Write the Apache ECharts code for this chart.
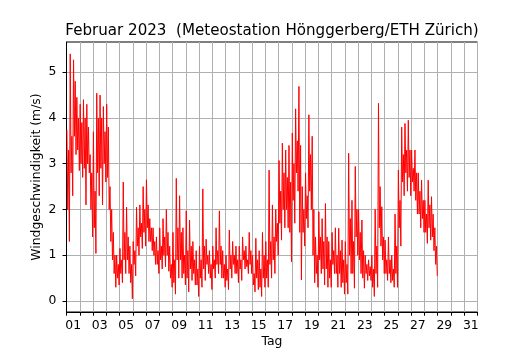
<!DOCTYPE html>
<html>
<head>
<meta charset="utf-8">
<script src="https://cdn.jsdelivr.net/npm/echarts@6.0.0/dist/echarts.min.js"></script>
<style>html,body{margin:0;padding:0;background:#fff}#c{width:530px;height:350px}</style>
</head>
<body>
<div id="c"></div>
<script>
// 6-hour bins from 1 Feb 00:00 (day offset = index * 0.25).
// Per bin: highest spike, lowest dip, and upper / lower edge of the dense core (m/s)
const binDays = 0.25;
const hiVals = [
3.74, 5.4, 5.27, 4.45, 4.3, 4.4, 4.3, 3.2,
3.7, 4.54, 4.5, 4.25, 4.3, 2.5, 1.5, 1.0,
1.15, 2.6, 2.05, 1.2, 1.3, 2.05, 2.1, 2.5,
2.65, 1.8, 1.6, 1.4, 1.6, 1.8, 2.0, 1.2,
1.5, 2.68, 2.3, 1.6, 1.97, 1.77, 1.3, 1.1,
1.2, 2.45, 1.35, 1.1, 1.2, 1.6, 1.97, 1.1,
1.0, 1.55, 1.3, 1.2, 1.2, 1.4, 1.2, 1.5,
1.0, 1.37, 1.1, 1.5, 1.3, 2.86, 2.1, 2.0,
3.07, 3.45, 3.3, 3.4, 3.67, 4.2, 4.69, 2.5,
2.8, 4.07, 3.6, 1.4, 1.95, 1.8, 2.13, 1.3,
1.5, 1.6, 1.59, 1.33, 1.3, 3.23, 2.2, 2.94,
2.0, 1.77, 1.0, 0.9, 1.0, 2.0, 4.32, 2.06,
1.33, 1.4, 1.0, 1.9, 2.86, 3.8, 3.88, 3.95,
3.3, 3.3, 2.8, 2.64, 2.2, 2.64, 2.28, 1.6
];
const loVals = [
1.3, 2.3, 3.2, 2.85, 2.7, 2.1, 2.8, 1.4,
1.04, 2.3, 2.1, 2.6, 2.0, 0.9, 0.3, 0.35,
0.4, 0.6, 0.6, 0.05, 0.55, 1.0, 1.15, 1.2,
1.3, 1.1, 0.8, 0.6, 0.7, 0.75, 0.65, 0.3,
0.15, 0.5, 0.5, 0.35, 0.2, 0.45, 0.35, 0.1,
0.3, 0.45, 0.6, 0.25, 0.5, 0.6, 0.5, 0.3,
0.25, 0.5, 0.6, 0.4, 0.45, 0.7, 0.6, 0.6,
0.2, 0.25, 0.1, 0.3, 0.3, 0.5, 0.6, 1.0,
1.33, 1.6, 1.6, 0.86, 1.7, 2.4, 0.46, 1.2,
1.6, 2.0, 0.4, 0.3, 0.6, 0.35, 0.3, 0.3,
0.6, 0.3, 0.3, 0.15, 0.15, 0.6, 0.28, 1.0,
0.6, 0.28, 0.45, 0.45, 0.1, 0.3, 1.2, 0.6,
0.45, 0.4, 0.3, 0.3, 1.2, 2.3, 2.4, 2.3,
2.4, 1.9, 1.6, 1.5, 1.26, 1.33, 1.1, 0.55
];
const coreHi = [
3.3, 3.6, 4.8, 4.0, 3.9, 4.0, 3.8, 2.8,
2.4, 4.0, 4.0, 3.7, 3.8, 2.0, 1.0, 0.8,
0.9, 1.5, 1.4, 0.8, 1.1, 1.6, 1.7, 2.0,
2.1, 1.6, 1.3, 1.1, 1.2, 1.4, 1.5, 0.8,
0.9, 1.6, 1.5, 1.0, 1.1, 1.2, 0.9, 0.7,
0.9, 1.2, 1.0, 0.8, 0.9, 1.1, 1.2, 0.8,
0.7, 1.0, 1.0, 0.9, 0.9, 1.1, 0.9, 1.1,
0.6, 0.9, 0.7, 1.0, 0.9, 1.3, 1.4, 1.7,
2.4, 2.8, 2.7, 2.6, 3.0, 3.5, 3.4, 2.0,
2.3, 3.2, 2.0, 1.0, 1.4, 1.3, 1.4, 0.9,
1.1, 1.0, 1.1, 0.9, 0.8, 1.8, 1.3, 2.0,
1.5, 1.1, 0.8, 0.75, 0.7, 1.2, 2.5, 1.4,
0.9, 0.9, 0.7, 1.2, 2.2, 3.2, 3.3, 3.3,
2.9, 2.8, 2.4, 2.2, 1.9, 2.1, 1.9, 1.2
];
const coreLo = [
2.0, 2.8, 3.6, 3.3, 3.0, 2.9, 3.0, 2.0,
1.6, 2.8, 2.9, 3.0, 2.7, 1.3, 0.6, 0.5,
0.6, 0.9, 0.9, 0.4, 0.8, 1.2, 1.4, 1.5,
1.6, 1.3, 1.0, 0.8, 0.9, 1.0, 1.0, 0.5,
0.4, 0.9, 0.9, 0.6, 0.5, 0.7, 0.6, 0.35,
0.5, 0.7, 0.8, 0.5, 0.7, 0.8, 0.8, 0.5,
0.45, 0.7, 0.8, 0.6, 0.7, 0.9, 0.75, 0.8,
0.35, 0.5, 0.3, 0.5, 0.5, 0.8, 0.9, 1.3,
1.7, 2.0, 2.0, 1.5, 2.2, 2.8, 1.5, 1.5,
1.8, 2.4, 1.0, 0.6, 0.9, 0.7, 0.7, 0.5,
0.8, 0.6, 0.6, 0.4, 0.4, 1.0, 0.6, 1.4,
0.9, 0.5, 0.6, 0.55, 0.3, 0.6, 1.6, 0.9,
0.6, 0.6, 0.45, 0.6, 1.6, 2.6, 2.8, 2.7,
2.6, 2.2, 1.9, 1.8, 1.5, 1.6, 1.4, 0.8
];
const tickLabels = ['01','03','05','07','09','11','13','15','17','19','21','23','25','27','29','31'];
const yTicks = [0, 1, 2, 3, 4, 5];
const titleText = 'Februar 2023  (Meteostation Hönggerberg/ETH Zürich)';

const pts = [];
hiVals.forEach((h, i) => {
  const t0 = i * binDays;
  pts.push([t0 + binDays * 0.125, h]);
  pts.push([t0 + binDays * 0.375, coreLo[i]]);
  pts.push([t0 + binDays * 0.625, coreHi[i]]);
  pts.push([t0 + binDays * 0.875, loVals[i]]);
});
const labelPos = tickLabels.map((s, i) => i * 2 + 0.5);
const F = 'DejaVu Sans';

const chart = echarts.init(document.getElementById('c'), null, {renderer: 'canvas'});
chart.setOption({
  animation: false,
  backgroundColor: '#fff',
  title: {
    text: titleText, left: 267, top: 19, textAlign: 'center',
    textStyle: {fontFamily: F, fontSize: 15.1, fontWeight: 'normal', color: '#000'}
  },
  grid: {left: 66.5, right: 52.5, top: 42, bottom: 38, outerBoundsMode: 'none', containLabel: false,
         show: true, borderColor: '#000', borderWidth: 1, backgroundColor: 'transparent'},
  xAxis: {
    type: 'value', min: 0, max: 31, interval: 1,
    name: 'Tag', nameLocation: 'middle', nameGap: 24, nameMoveOverlap: false,
    nameTextStyle: {fontFamily: F, fontSize: 12.4, color: '#000'},
    axisLine: {show: true, onZero: false, lineStyle: {color: '#000', width: 1}},
    axisTick: {show: true, length: 3.7, lineStyle: {color: '#000', width: 1}},
    axisLabel: {
      customValues: labelPos, margin: 8,
      fontFamily: F, fontSize: 12.4, color: '#000',
      formatter: v => tickLabels[Math.round((v - 0.5) / 2)]
    },
    splitLine: {show: true, lineStyle: {color: '#b0b0b0', width: 1}}
  },
  yAxis: {
    type: 'value', min: -0.24, max: 5.66,
    name: 'Windgeschwindigkeit (m/s)', nameLocation: 'middle', nameGap: 24, nameMoveOverlap: false,
    nameTextStyle: {fontFamily: F, fontSize: 12.4, color: '#000'},
    axisLine: {show: true, onZero: false, lineStyle: {color: '#000', width: 1}},
    axisTick: {show: true, length: 4, customValues: yTicks, lineStyle: {color: '#000', width: 1}},
    axisLabel: {customValues: yTicks, margin: 10, fontFamily: F, fontSize: 12.4, color: '#000', formatter: v => String(v)},
    splitLine: {show: true, lineStyle: {color: '#b0b0b0', width: 1}}
  },
  series: [{
    type: 'line', data: pts, showSymbol: false, symbol: 'none',
    lineStyle: {color: '#ff0000', width: 1}, clip: true
  }]
});
</script>
</body>
</html>
